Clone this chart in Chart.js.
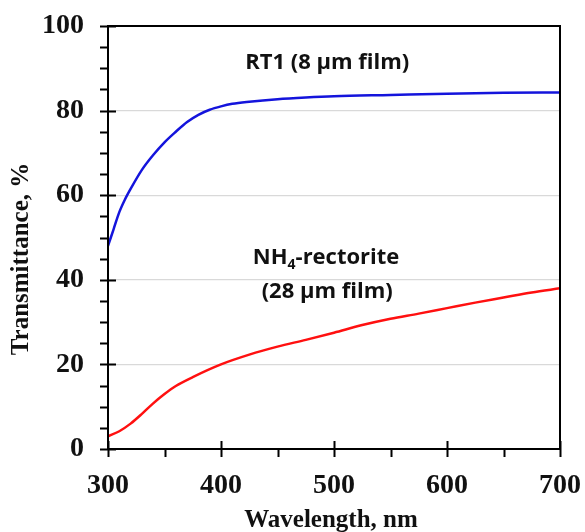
<!DOCTYPE html>
<html>
<head>
<meta charset="utf-8">
<script src="https://cdn.jsdelivr.net/npm/chart.js@4/dist/chart.umd.min.js"></script>
<style>
  html, body { margin: 0; padding: 0; background: #fff; }
  #wrap { width: 585px; height: 532px; }
</style>
</head>
<body>
<div id="wrap"><canvas id="lineChart" width="585" height="532"></canvas></div>
<script>
// wavelength (nm) and transmittance (%)
var rt1Wave = [300, 305, 310, 315, 320, 330, 340, 350, 360, 370, 380, 390, 400, 410, 425, 450, 475, 500, 550, 600, 650, 700];
var rt1Trans = [48, 52, 56, 59, 61.5, 66, 69.5, 72.5, 75, 77.3, 79, 80.2, 81, 81.6, 82.1, 82.7, 83.1, 83.4, 83.7, 84, 84.2, 84.3];

var nh4Wave = [300, 310, 320, 330, 340, 350, 360, 375, 400, 425, 450, 475, 500, 525, 550, 575, 600, 625, 650, 675, 700];
var nh4Trans = [3, 4.2, 6, 8.3, 10.8, 13, 14.9, 17, 20, 22.3, 24.2, 25.8, 27.5, 29.3, 30.8, 32, 33.3, 34.6, 35.8, 37, 38];

var xTicks = [300, 400, 500, 600, 700];
var yTicks = [0, 20, 40, 60, 80, 100];

var xTitle = 'Wavelength, nm';
var yTitle = 'Transmittance, %';

function toPoints(xs, ys) {
    var pts = [];
    for (var i = 0; i < xs.length; i++) {
        pts.push({x: xs[i], y: ys[i]});
    }
    return pts;
}

// frame, crossing major ticks, outside minor ticks, titles, curve labels
var framePlugin = {
    id: 'frame',
    afterDraw: function(chart) {
        var c = chart.ctx;
        var a = chart.chartArea;
        var xs = chart.scales.x, ys = chart.scales.y;
        c.save();
        c.strokeStyle = '#000';
        c.lineWidth = 2;
        c.beginPath();
        c.moveTo(a.left, a.top); c.lineTo(a.right, a.top); c.lineTo(a.right, a.bottom);
        c.lineTo(a.left, a.bottom); c.closePath();
        c.stroke();

        c.beginPath();
        for (var v = 0; v <= 100; v += 5) {
            var py = Math.round(ys.getPixelForValue(v)) + 0.5;
            if (v % 20 == 0) { c.moveTo(a.left - 8, py); c.lineTo(a.left + 8, py); }
            else { c.moveTo(a.left - 8, py); c.lineTo(a.left, py); }
        }
        for (var w = 300; w <= 700; w += 50) {
            var px = Math.round(xs.getPixelForValue(w)) + 0.5;
            if (w % 100 == 0) { c.moveTo(px, a.bottom - 8); c.lineTo(px, a.bottom + 8); }
            else { c.moveTo(px, a.bottom); c.lineTo(px, a.bottom + 8); }
        }
        c.stroke();

        // axis titles
        c.fillStyle = '#111';
        c.textAlign = 'center';
        c.textBaseline = 'middle';
        c.font = 'bold 25px "Liberation Serif"';
        c.fillText(xTitle, 331, 521);
        c.save();
        c.translate(22, 259);
        c.rotate(-Math.PI / 2);
        c.fillText(yTitle, 0, 0);
        c.restore();

        // curve labels
        c.font = 'bold 22px "Open Sans"';
        c.fillText('RT1 (8 \u03bcm film)', xs.getPixelForValue(494), ys.getPixelForValue(91.3));

        // NH4 with subscript 4
        var cx = xs.getPixelForValue(493), cy = ys.getPixelForValue(45.2);
        var p1 = 'NH', p2 = '4', p3 = '-rectorite';
        var w1 = c.measureText(p1).width, w3 = c.measureText(p3).width;
        c.font = 'bold 14px "Open Sans"';
        var w2 = c.measureText(p2).width;
        var sx = cx - (w1 + w2 + w3) / 2;
        c.textAlign = 'left';
        c.font = 'bold 22px "Open Sans"';
        c.fillText(p1, sx, cy);
        c.font = 'bold 14px "Open Sans"';
        c.fillText(p2, sx + w1, cy + 7);
        c.font = 'bold 22px "Open Sans"';
        c.fillText(p3, sx + w1 + w2, cy);
        c.textAlign = 'center';
        c.fillText('(28 \u03bcm film)', xs.getPixelForValue(494), ys.getPixelForValue(37.1));
        c.restore();
    }
};

var ctx = document.getElementById('lineChart').getContext('2d');
var lineChart = new Chart(ctx, {
    type: 'line',
    data: {
        datasets: [
            {
                label: 'RT1 (8 \u03bcm film)',
                data: toPoints(rt1Wave, rt1Trans),
                borderColor: '#1414dc',
                borderWidth: 2.5,
                pointRadius: 0,
                cubicInterpolationMode: 'monotone',
                fill: false
            },
            {
                label: 'NH4-rectorite (28 \u03bcm film)',
                data: toPoints(nh4Wave, nh4Trans),
                borderColor: '#ff1010',
                borderWidth: 2.5,
                pointRadius: 0,
                cubicInterpolationMode: 'monotone',
                fill: false
            }
        ]
    },
    options: {
        responsive: false,
        animation: false,
        layout: { padding: { top: 26, right: 25, left: 0, bottom: 0 } },
        plugins: { legend: { display: false }, tooltip: { enabled: false } },
        scales: {
            x: {
                type: 'linear',
                min: 300, max: 700,
                afterBuildTicks: function(s) { s.ticks = xTicks.map(function(v){ return {value: v}; }); },
                afterFit: function(s) { s.height = 83; s.paddingLeft = 0; s.paddingRight = 0; },
                grid: { display: false, drawTicks: false },
                border: { display: false },
                ticks: { padding: 20, color: '#111', font: { family: 'Liberation Serif', weight: 'bold', size: 28 } }
            },
            y: {
                min: 0, max: 100,
                afterBuildTicks: function(s) { s.ticks = yTicks.map(function(v){ return {value: v}; }); },
                afterFit: function(s) { s.width = 108; s.paddingTop = 0; s.paddingBottom = 0; },
                grid: {
                    drawTicks: false,
                    color: function(g) { return (g.tick.value == 0 || g.tick.value == 100) ? 'rgba(0,0,0,0)' : '#d9d9d9'; },
                    lineWidth: 1.2
                },
                border: { display: false },
                ticks: { padding: 24, color: '#111', font: { family: 'Liberation Serif', weight: 'bold', size: 28 } }
            }
        }
    },
    plugins: [framePlugin]
});
</script>
</body>
</html>
